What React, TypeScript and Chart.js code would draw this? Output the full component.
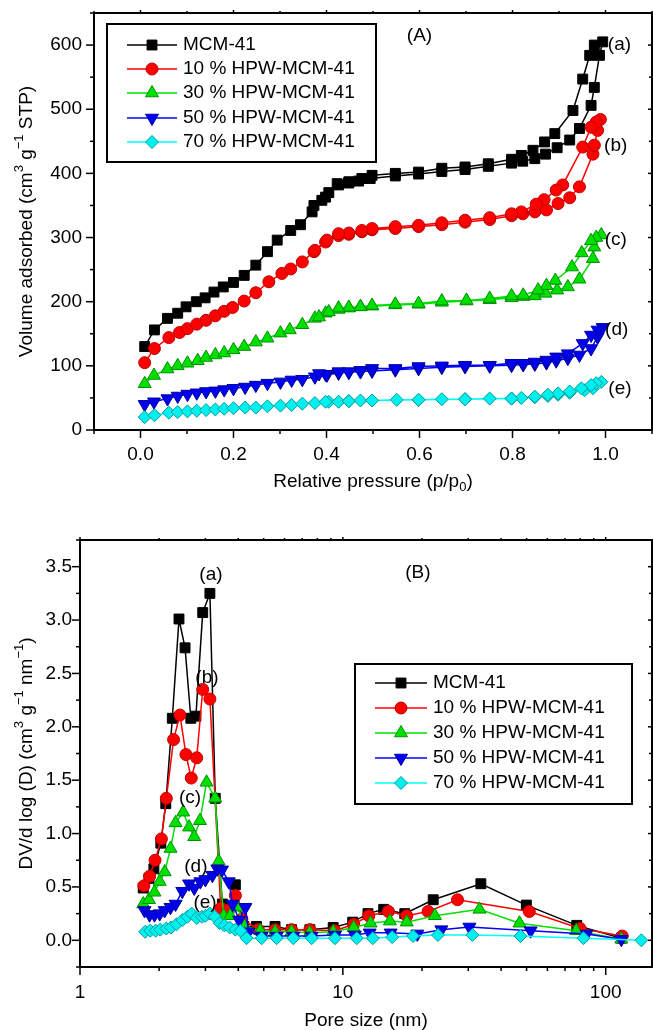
import React, { useEffect, useRef } from 'react';
import { Chart, registerables } from 'chart.js';

Chart.register(...registerables);

const FONT = '"Liberation Sans", Arial, Helvetica, sans-serif';

// ---------------- Series names ----------------
const SERIES_NAMES = ['MCM-41', '10 % HPW-MCM-41', '30 % HPW-MCM-41', '50 % HPW-MCM-41', '70 % HPW-MCM-41'];
const CURVE_TAGS = ['(a)', '(b)', '(c)', '(d)', '(e)'];

// ---------------- Panel A: isotherms (adsorption then desorption) ----------------
const A_MCM41_P = [0.009, 0.03, 0.058, 0.08, 0.098, 0.12, 0.139, 0.158, 0.178, 0.2, 0.223, 0.248, 0.273, 0.294, 0.323, 0.344, 0.369, 0.39, 0.405, 0.426, 0.448, 0.469, 0.494, 0.548, 0.598, 0.648, 0.698, 0.748, 0.798, 0.822, 0.848, 0.871, 0.896, 0.923, 0.944, 0.969, 0.976, 0.987, 0.994,
  0.976, 0.966, 0.951, 0.93, 0.891, 0.869, 0.844, 0.819, 0.798, 0.748, 0.698, 0.648, 0.598, 0.548, 0.498, 0.476, 0.448, 0.423, 0.398, 0.373];
const A_MCM41_V = [130, 156, 174, 182, 192, 200, 206, 215, 223, 230, 241, 257, 278, 296, 311, 320, 340, 358, 370, 382, 385, 388, 392, 396, 399, 403, 406, 411, 416, 419, 423, 430, 440, 452, 470, 506, 534, 584, 605,
  600, 584, 547, 498, 462, 449, 436, 428, 422, 415, 410, 408, 402, 400, 397, 392, 387, 384, 363, 350];

const A_HPW10_P = [0.009, 0.03, 0.061, 0.084, 0.101, 0.121, 0.141, 0.161, 0.18, 0.198, 0.223, 0.248, 0.276, 0.304, 0.323, 0.348, 0.373, 0.398, 0.426, 0.448, 0.476, 0.498, 0.548, 0.598, 0.648, 0.698, 0.751, 0.798, 0.822, 0.848, 0.873, 0.898, 0.923, 0.944, 0.973, 0.976, 0.983, 0.989,
  0.98, 0.969, 0.951, 0.908, 0.894, 0.868, 0.851, 0.819, 0.798, 0.751, 0.698, 0.648, 0.598, 0.548, 0.498, 0.476, 0.448, 0.426, 0.401, 0.375];
const A_HPW10_V = [105, 127, 144, 152, 158, 165, 171, 178, 185, 191, 201, 214, 231, 244, 251, 262, 278, 293, 303, 305, 309, 312, 314, 317, 320, 324, 328, 334, 337, 340, 343, 353, 362, 379, 430, 444, 467, 484,
  480, 472, 441, 382, 374, 359, 352, 340, 337, 331, 327, 323, 319, 317, 314, 311, 307, 306, 296, 280];

const A_HPW30_P = [0.009, 0.029, 0.058, 0.08, 0.101, 0.123, 0.141, 0.161, 0.18, 0.2, 0.223, 0.248, 0.273, 0.301, 0.321, 0.348, 0.375, 0.398, 0.426, 0.448, 0.473, 0.498, 0.548, 0.598, 0.648, 0.701, 0.751, 0.798, 0.823, 0.848, 0.871, 0.896, 0.919, 0.944, 0.973, 0.976, 0.991,
  0.98, 0.969, 0.949, 0.928, 0.892, 0.873, 0.855, 0.823, 0.798, 0.751, 0.701, 0.648, 0.598, 0.548, 0.498, 0.473, 0.448, 0.426, 0.405, 0.384];
const A_HPW30_V = [72, 85, 95, 100, 104, 108, 113, 117, 120, 125, 130, 137, 143, 151, 156, 164, 174, 182, 188, 190, 192, 193, 195, 196, 199, 201, 203, 206, 208, 209, 213, 218, 223, 235, 267, 285, 304,
  300, 295, 276, 254, 233, 225, 218, 210, 209, 205, 202, 201, 197, 196, 194, 192, 191, 190, 184, 176];

const A_HPW50_P = [0.009, 0.029, 0.058, 0.08, 0.101, 0.121, 0.141, 0.161, 0.18, 0.2, 0.225, 0.248, 0.273, 0.301, 0.325, 0.348, 0.375, 0.401, 0.426, 0.448, 0.473, 0.498, 0.548, 0.598, 0.648, 0.698, 0.751, 0.798, 0.823, 0.848, 0.873, 0.894, 0.919, 0.944, 0.969, 0.983, 0.994,
  0.983, 0.969, 0.951, 0.919, 0.894, 0.873, 0.848, 0.823, 0.798, 0.751, 0.698, 0.648, 0.598, 0.548, 0.498, 0.473, 0.448, 0.426, 0.398, 0.384];
const A_HPW50_V = [40, 44, 49, 53, 56, 58, 60, 61, 63, 65, 67, 70, 73, 75, 78, 79, 83, 86, 89, 90, 91, 92, 94, 96, 98, 99, 100, 101, 102, 103, 105, 108, 112, 117, 127, 145, 160,
  156, 148, 135, 119, 114, 109, 106, 104, 104, 101, 101, 100, 99, 96, 96, 93, 91, 91, 87, 88];

const A_HPW70_P = [0.009, 0.03, 0.061, 0.08, 0.101, 0.121, 0.141, 0.161, 0.18, 0.2, 0.225, 0.248, 0.273, 0.301, 0.325, 0.348, 0.375, 0.405, 0.426, 0.448, 0.473, 0.498, 0.551, 0.598, 0.648, 0.698, 0.751, 0.798, 0.819, 0.848, 0.876, 0.898, 0.923, 0.955, 0.973, 0.991,
  0.98, 0.969, 0.948, 0.923, 0.898, 0.876, 0.848, 0.798, 0.698, 0.598, 0.498, 0.448, 0.398];
const A_HPW70_V = [20, 23, 27, 28, 29, 30, 31, 32, 33, 34, 35, 35, 37, 38, 39, 41, 42, 44, 44, 45, 46, 46, 47, 47, 48, 48, 49, 49, 50, 51, 53, 55, 58, 62, 65, 75,
  73, 70, 65, 60, 57, 55, 52, 49, 48, 47, 46, 45, 44];

const A_X = [A_MCM41_P, A_HPW10_P, A_HPW30_P, A_HPW50_P, A_HPW70_P];
const A_Y = [A_MCM41_V, A_HPW10_V, A_HPW30_V, A_HPW50_V, A_HPW70_V];

const A_X_TICKS = [0, 0.2, 0.4, 0.6, 0.8, 1.0];
const A_X_MINOR = [-0.1, 0.1, 0.3, 0.5, 0.7, 0.9, 1.1];
const A_Y_TICKS = [0, 100, 200, 300, 400, 500, 600];
const A_Y_MINOR = [50, 150, 250, 350, 450, 550, 650];
const A_TAG_X = [1.03, 1.022, 1.022, 1.024, 1.031];
const A_TAG_Y = [601, 443, 296, 156, 65];

// ---------------- Panel B: pore size distributions ----------------
const B_MCM41_D = [1.74, 1.83, 1.91, 2.03, 2.12, 2.245, 2.38, 2.51, 2.64, 2.76, 2.93, 3.12, 3.27, 3.48, 3.69, 3.9, 4.2, 4.69, 5.52, 6.38, 7.49, 9.19, 10.9, 12.46, 14.3, 17.2, 22.07, 33.5, 49.9, 77.6, 114.7];
const B_MCM41_DV = [0.49, 0.58, 0.67, 0.91, 1.28, 2.08, 3.01, 2.74, 2.08, 2.10, 3.07, 3.25, 1.33, 0.34, 0.30, 0.52, 0.13, 0.13, 0.13, 0.10, 0.10, 0.12, 0.17, 0.25, 0.29, 0.25, 0.38, 0.53, 0.33, 0.14, 0.02];

const B_HPW10_D = [1.75, 1.84, 1.93, 2.04, 2.13, 2.27, 2.40, 2.53, 2.65, 2.78, 2.93, 3.12, 3.43, 3.63, 3.9, 4.13, 4.77, 5.52, 6.38, 7.49, 9.33, 11.0, 12.55, 14.9, 17.5, 21.1, 27.3, 51.2, 79.9, 115.6];
const B_HPW10_DV = [0.51, 0.60, 0.75, 0.95, 1.33, 1.88, 2.11, 1.74, 1.52, 1.71, 2.35, 2.26, 0.30, 0.28, 0.42, 0.20, 0.10, 0.10, 0.10, 0.10, 0.09, 0.15, 0.23, 0.27, 0.23, 0.27, 0.38, 0.27, 0.11, 0.04];

const B_HPW30_D = [1.74, 1.83, 1.92, 2.01, 2.10, 2.21, 2.31, 2.47, 2.60, 2.72, 2.86, 3.03, 3.27, 3.37, 3.52, 3.73, 3.98, 4.2, 4.85, 5.52, 6.38, 7.48, 9.19, 11.0, 12.75, 15.1, 17.5, 22.4, 33.1, 47.0, 77.2, 114.7];
const B_HPW30_DV = [0.34, 0.38, 0.45, 0.55, 0.64, 0.86, 1.10, 1.20, 1.06, 0.97, 1.12, 1.48, 1.33, 0.74, 0.23, 0.23, 0.31, 0.14, 0.09, 0.08, 0.08, 0.07, 0.08, 0.12, 0.16, 0.18, 0.17, 0.23, 0.29, 0.16, 0.09, 0.01];

const B_HPW50_D = [1.76, 1.84, 1.92, 2.01, 2.10, 2.21, 2.31, 2.45, 2.60, 2.72, 2.87, 3.0, 3.19, 3.33, 3.47, 3.68, 3.81, 4.03, 4.26, 4.38, 4.91, 5.6, 6.48, 7.61, 9.33, 11.1, 12.65, 15.2, 19.2, 23.7, 30.3, 51.8, 84.6, 114.7];
const B_HPW50_DV = [0.28, 0.24, 0.24, 0.25, 0.28, 0.31, 0.34, 0.46, 0.53, 0.49, 0.55, 0.57, 0.61, 0.67, 0.66, 0.55, 0.34, 0.19, 0.31, 0.08, 0.04, 0.04, 0.04, 0.04, 0.05, 0.05, 0.07, 0.07, 0.06, 0.10, 0.125, 0.09, 0.06, 0.01];

const B_HPW70_D = [1.77, 1.85, 1.94, 2.02, 2.13, 2.22, 2.33, 2.45, 2.56, 2.66, 2.78, 2.91, 3.0, 3.12, 3.26, 3.4, 3.54, 3.71, 3.9, 4.08, 4.3, 4.91, 5.6, 6.48, 7.61, 9.33, 11.3, 13.0, 15.4, 18.5, 23.0, 31.1, 47.4, 82.3, 136.7];
const B_HPW70_DV = [0.08, 0.09, 0.09, 0.10, 0.11, 0.12, 0.15, 0.19, 0.22, 0.25, 0.21, 0.22, 0.23, 0.25, 0.22, 0.16, 0.14, 0.12, 0.10, 0.09, 0.02, 0.02, 0.02, 0.02, 0.02, 0.02, 0.02, 0.02, 0.03, 0.04, 0.05, 0.05, 0.04, 0.02, 0.0];

const B_X = [B_MCM41_D, B_HPW10_D, B_HPW30_D, B_HPW50_D, B_HPW70_D];
const B_Y = [B_MCM41_DV, B_HPW10_DV, B_HPW30_DV, B_HPW50_DV, B_HPW70_DV];

const B_X_TICKS = [1, 10, 100];
const B_X_MINOR = [2, 3, 4, 5, 6, 7, 8, 9, 20, 30, 40, 50, 60, 70, 80, 90];
const B_Y_TICKS = [0, 0.5, 1.0, 1.5, 2.0, 2.5, 3.0, 3.5];
const B_Y_MINOR = [-0.25, 0.25, 0.75, 1.25, 1.75, 2.25, 2.75, 3.25, 3.75];
const B_TAG_X = [3.15, 3.04, 2.62, 2.76, 2.99];
const B_TAG_Y = [3.42, 2.46, 1.34, 0.69, 0.35];

// ---------------- Styles ----------------
type Style = { line: string; fill: string; edge: string; shape: string; r: number; rot: number };
const STYLES: Style[] = [
  { line: '#000000', fill: '#000000', edge: '#000000', shape: 'rect', r: 7, rot: 0 },
  { line: '#ff0000', fill: '#ff0000', edge: '#c00000', shape: 'circle', r: 6, rot: 0 },
  { line: '#00e000', fill: '#00e000', edge: '#009000', shape: 'triangle', r: 7.5, rot: 0 },
  { line: '#0000ff', fill: '#0000f0', edge: '#0000a0', shape: 'triangle', r: 7.5, rot: 180 },
  { line: '#00ffff', fill: '#00f0f0', edge: '#009c9c', shape: 'rectRot', r: 6.5, rot: 0 },
];

type Seg = { t: string; s?: 'sup' | 'sub' };

function drawRich(ctx: CanvasRenderingContext2D, segs: Seg[], x: number, y: number, size: number, rotate: boolean) {
  ctx.save();
  ctx.translate(x, y);
  if (rotate) ctx.rotate(-Math.PI / 2);
  const small = Math.round(size * 0.66);
  const widths = segs.map((s) => {
    ctx.font = `${s.s ? small : size}px ${FONT}`;
    return ctx.measureText(s.t).width;
  });
  const total = widths.reduce((a, b) => a + b, 0);
  let cx = -total / 2;
  ctx.textBaseline = 'middle';
  ctx.textAlign = 'left';
  ctx.fillStyle = '#000';
  segs.forEach((s, i) => {
    ctx.font = `${s.s ? small : size}px ${FONT}`;
    const dy = s.s === 'sup' ? -size * 0.42 : s.s === 'sub' ? size * 0.3 : 0;
    ctx.fillText(s.t, cx, dy);
    cx += widths[i];
  });
  ctx.restore();
}

function drawMarker(ctx: CanvasRenderingContext2D, st: Style, x: number, y: number) {
  ctx.save();
  ctx.translate(x, y);
  ctx.beginPath();
  const r = st.r;
  if (st.shape === 'rect') {
    const s = r * Math.SQRT1_2;
    ctx.rect(-s, -s, 2 * s, 2 * s);
  } else if (st.shape === 'circle') {
    ctx.arc(0, 0, r, 0, Math.PI * 2);
  } else if (st.shape === 'triangle') {
    let a = (st.rot * Math.PI) / 180;
    ctx.moveTo(Math.sin(a) * r, -Math.cos(a) * r);
    a += (2 * Math.PI) / 3;
    ctx.lineTo(Math.sin(a) * r, -Math.cos(a) * r);
    a += (2 * Math.PI) / 3;
    ctx.lineTo(Math.sin(a) * r, -Math.cos(a) * r);
    ctx.closePath();
  } else {
    ctx.moveTo(0, -r);
    ctx.lineTo(r, 0);
    ctx.lineTo(0, r);
    ctx.lineTo(-r, 0);
    ctx.closePath();
  }
  ctx.fillStyle = st.fill;
  ctx.fill();
  ctx.lineWidth = 1;
  ctx.strokeStyle = st.edge;
  ctx.stroke();
  ctx.restore();
}

type Area = { left: number; top: number; right: number; bottom: number };
type FrameCfg = {
  area: Area;
  xMajor: number[]; xMinor: number[]; yMajor: number[]; yMinor: number[];
  xTitle: Seg[]; xTitleY: number; yTitle: Seg[]; yTitleX: number;
  panel: { text: string; x: number; y: number };
  tagX: number[]; tagY: number[];
  legend: { x1: number; y1: number; x2: number; y2: number; rows: number[]; l1: number; l2: number; tx: number };
};

function framePlugin(cfg: FrameCfg) {
  return {
    id: 'frame',
    afterLayout(chart: any) {
      // pin the plot area to the reference geometry
      const A = cfg.area;
      const ca = chart.chartArea;
      ca.left = A.left; ca.top = A.top; ca.right = A.right; ca.bottom = A.bottom;
      ca.width = A.right - A.left; ca.height = A.bottom - A.top;
      const xs = chart.scales.x;
      const ys = chart.scales.y;
      xs.left = A.left; xs.right = A.right; xs.width = A.right - A.left;
      xs.top = A.bottom; xs.bottom = chart.height; xs.height = chart.height - A.bottom;
      ys.left = 0; ys.right = A.left; ys.width = A.left;
      ys.top = A.top; ys.bottom = A.bottom; ys.height = A.bottom - A.top;
      xs.configure();
      ys.configure();
    },
    afterDraw(chart: any) {
      const { ctx, chartArea: a, scales } = chart;
      const xs = scales.x;
      const ys = scales.y;
      ctx.save();
      ctx.strokeStyle = '#000';
      ctx.lineWidth = 2;
      ctx.strokeRect(a.left, a.top, a.right - a.left, a.bottom - a.top);
      ctx.lineWidth = 1.5;
      const tick = (x1: number, y1: number, x2: number, y2: number) => {
        ctx.beginPath();
        ctx.moveTo(x1, y1);
        ctx.lineTo(x2, y2);
        ctx.stroke();
      };
      cfg.xMajor.forEach((v) => {
        const x = xs.getPixelForValue(v);
        tick(x, a.bottom, x, a.bottom + 8);
        tick(x, a.top, x, a.top - 3);
      });
      cfg.xMinor.forEach((v) => {
        const x = xs.getPixelForValue(v);
        tick(x, a.bottom, x, a.bottom + 4);
        tick(x, a.top, x, a.top - 2);
      });
      cfg.yMajor.forEach((v) => {
        const y = ys.getPixelForValue(v);
        tick(a.left, y, a.left - 8, y);
        tick(a.right, y, a.right - 4, y);
      });
      cfg.yMinor.forEach((v) => {
        const y = ys.getPixelForValue(v);
        tick(a.left, y, a.left - 4, y);
        tick(a.right, y, a.right - 3, y);
      });

      drawRich(ctx, cfg.xTitle, (a.left + a.right) / 2, cfg.xTitleY, 19, false);
      drawRich(ctx, cfg.yTitle, cfg.yTitleX, (a.top + a.bottom) / 2, 19, true);

      ctx.fillStyle = '#000';
      ctx.font = `19px ${FONT}`;
      ctx.textAlign = 'center';
      ctx.textBaseline = 'middle';
      ctx.fillText(cfg.panel.text, xs.getPixelForValue(cfg.panel.x), ys.getPixelForValue(cfg.panel.y));
      CURVE_TAGS.forEach((t, i) => {
        ctx.fillText(t, xs.getPixelForValue(cfg.tagX[i]), ys.getPixelForValue(cfg.tagY[i]));
      });

      const L = cfg.legend;
      ctx.fillStyle = '#fff';
      ctx.fillRect(L.x1, L.y1, L.x2 - L.x1, L.y2 - L.y1);
      ctx.lineWidth = 2;
      ctx.strokeStyle = '#000';
      ctx.strokeRect(L.x1, L.y1, L.x2 - L.x1, L.y2 - L.y1);
      SERIES_NAMES.forEach((name, i) => {
        const st = STYLES[i];
        const y = L.rows[i];
        ctx.strokeStyle = st.line;
        ctx.lineWidth = 1.5;
        ctx.beginPath();
        ctx.moveTo(L.l1, y);
        ctx.lineTo(L.l2, y);
        ctx.stroke();
        drawMarker(ctx, st, (L.l1 + L.l2) / 2, y);
        ctx.fillStyle = '#000';
        ctx.font = `19px ${FONT}`;
        ctx.textAlign = 'left';
        ctx.textBaseline = 'middle';
        ctx.fillText(name, L.tx, y);
      });
      ctx.restore();
    },
  };
}

function makeDatasets(xs: number[][], ys: number[][]) {
  return SERIES_NAMES.map((name, i) => {
    const st = STYLES[i];
    return {
      label: name,
      data: xs[i].map((x, j) => ({ x, y: ys[i][j] })),
      showLine: true,
      borderColor: st.line,
      borderWidth: 1.5,
      pointStyle: st.shape,
      pointRotation: st.rot,
      pointRadius: st.r,
      pointBackgroundColor: st.fill,
      pointBorderColor: st.edge,
      pointBorderWidth: 1,
      order: 5 - i,
    };
  });
}

const tickFont = { family: FONT, size: 19 };

const zeroPad = (s: any) => {
  s.paddingTop = 0;
  s.paddingBottom = 0;
  s.paddingLeft = 0;
  s.paddingRight = 0;
};

const noGrid = { display: false, drawTicks: false };

function configA(): any {
  return {
    type: 'scatter',
    data: { datasets: makeDatasets(A_X, A_Y) },
    options: {
      animation: false,
      responsive: false,
      devicePixelRatio: 1,
      layout: { padding: { top: 13, right: 1, left: 0, bottom: 0 } },
      plugins: { legend: { display: false }, tooltip: { enabled: false } },
      scales: {
        x: {
          type: 'linear', min: -0.1, max: 1.1,
          afterBuildTicks: (s: any) => { s.ticks = A_X_TICKS.map((v) => ({ value: v })); },
          afterFit: (s: any) => { s.height = 80; zeroPad(s); },
          grid: noGrid, border: { display: false },
          ticks: { font: tickFont, color: '#000', padding: 13, maxRotation: 0, autoSkip: false, callback: (v: any) => Number(v).toFixed(1) },
        },
        y: {
          type: 'linear', min: 0, max: 650,
          afterBuildTicks: (s: any) => { s.ticks = A_Y_TICKS.map((v) => ({ value: v })); },
          afterFit: (s: any) => { s.width = 94; zeroPad(s); },
          grid: noGrid, border: { display: false },
          ticks: { font: tickFont, color: '#000', padding: 12, autoSkip: false, callback: (v: any) => String(v) },
        },
      },
    },
    plugins: [framePlugin({
      area: { left: 94, top: 13, right: 652, bottom: 430 },
      xMajor: A_X_TICKS, xMinor: A_X_MINOR, yMajor: A_Y_TICKS, yMinor: A_Y_MINOR,
      xTitle: [{ t: 'Relative pressure (p/p' }, { t: '0', s: 'sub' }, { t: ')' }], xTitleY: 482,
      yTitle: [{ t: 'Volume adsorbed (cm' }, { t: '3', s: 'sup' }, { t: ' g' }, { t: '\u22121', s: 'sup' }, { t: ' STP)' }], yTitleX: 27,
      panel: { text: '(A)', x: 0.6, y: 615 },
      tagX: A_TAG_X, tagY: A_TAG_Y,
      legend: { x1: 107, y1: 24, x2: 376, y2: 162, rows: [45, 69, 93, 118, 142], l1: 127, l2: 177, tx: 183 },
    })],
  };
}

function configB(): any {
  return {
    type: 'scatter',
    data: { datasets: makeDatasets(B_X, B_Y) },
    options: {
      animation: false,
      responsive: false,
      devicePixelRatio: 1,
      layout: { padding: { top: 30, right: 1, left: 0, bottom: 0 } },
      plugins: { legend: { display: false }, tooltip: { enabled: false } },
      scales: {
        x: {
          type: 'logarithmic', min: 1, max: 150,
          afterBuildTicks: (s: any) => { s.ticks = B_X_TICKS.map((v) => ({ value: v })); },
          afterFit: (s: any) => { s.height = 63; zeroPad(s); },
          grid: noGrid, border: { display: false },
          ticks: { font: tickFont, color: '#000', padding: 14, maxRotation: 0, autoSkip: false, callback: (v: any) => String(v) },
        },
        y: {
          type: 'linear', min: -0.25, max: 3.75,
          afterBuildTicks: (s: any) => { s.ticks = B_Y_TICKS.map((v) => ({ value: v })); },
          afterFit: (s: any) => { s.width = 80; zeroPad(s); },
          grid: noGrid, border: { display: false },
          ticks: { font: tickFont, color: '#000', padding: 8, autoSkip: false, callback: (v: any) => Number(v).toFixed(1) },
        },
      },
    },
    plugins: [framePlugin({
      area: { left: 80, top: 30, right: 652, bottom: 457 },
      xMajor: B_X_TICKS, xMinor: B_X_MINOR, yMajor: B_Y_TICKS, yMinor: B_Y_MINOR,
      xTitle: [{ t: 'Pore size (nm)' }], xTitleY: 511,
      yTitle: [{ t: 'DV/d log (D) (cm' }, { t: '3', s: 'sup' }, { t: ' g' }, { t: '\u22121', s: 'sup' }, { t: ' nm' }, { t: '\u22121', s: 'sup' }, { t: ')' }], yTitleX: 27,
      panel: { text: '(B)', x: 19.3, y: 3.44 },
      tagX: B_TAG_X, tagY: B_TAG_Y,
      legend: { x1: 355, y1: 154, x2: 632, y2: 294, rows: [173, 198, 223, 248, 273], l1: 375, l2: 427, tx: 433 },
    })],
  };
}

export default function App() {
  const refA = useRef<HTMLCanvasElement>(null);
  const refB = useRef<HTMLCanvasElement>(null);
  useEffect(() => {
    const a = new Chart(refA.current as HTMLCanvasElement, configA());
    const b = new Chart(refB.current as HTMLCanvasElement, configB());
    return () => {
      a.destroy();
      b.destroy();
    };
  }, []);
  return (
    <div style={{ position: 'absolute', left: 0, top: 0, width: 653, height: 1030, background: '#fff' }}>
      <canvas ref={refA} width={653} height={510} style={{ display: 'block', width: 653, height: 510 }} />
      <canvas ref={refB} width={653} height={520} style={{ display: 'block', width: 653, height: 520 }} />
    </div>
  );
}
